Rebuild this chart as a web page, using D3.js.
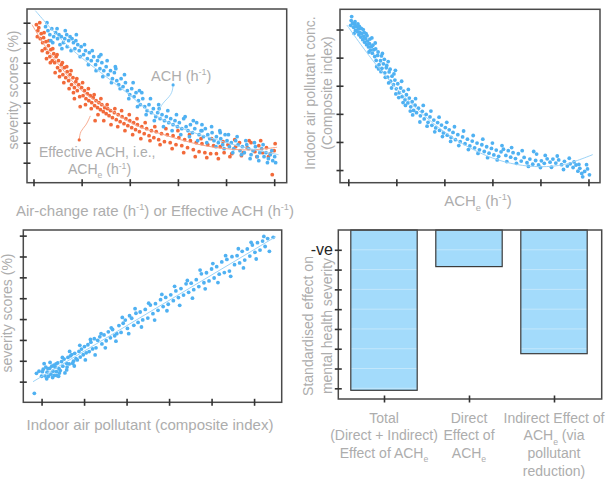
<!DOCTYPE html>
<meta charset="utf-8">
<script src="https://d3js.org/d3.v7.min.js"></script>
<style>
  body { margin: 0; background: #fff; }
  svg { display: block; }
  text { font-family: "Liberation Sans", Arial, sans-serif; }
</style>
<div id="chart"></div>
<script>

// ---- panel A: severity vs ACH / effective ACH (tick units) ----
var achPoints = [[2.5,78],[3.0,76],[3.4,74],[3.8,77],[4.2,73],[4.6,75],[5.0,72],[5.3,74],[5.8,73],[6.2,70],[6.5,72],[6.9,74],[7.3,71],[7.6,73],[8.0,72],[8.3,70],[8.8,71],[9.2,69],[9.5,66],[9.9,68],[10.4,64],[10.8,66],[11.2,62],[11.6,65],[12.0,61],[12.5,63],[12.9,59],[13.3,61],[13.8,57],[14.2,60],[14.6,56],[15.1,58],[15.5,54],[16.0,56],[16.4,52],[16.8,55],[17.3,51],[17.7,49],[18.2,52],[18.6,48],[19.1,50],[19.5,46],[20.0,44],[20.4,47],[20.9,43],[21.3,45],[21.8,41],[22.2,39],[22.7,42],[23.1,38],[23.6,36],[24.0,39],[24.5,35],[24.9,37],[25.4,33],[25.8,35],[26.3,32],[26.7,34],[27.2,31],[27.6,33],[28.1,30],[28.5,32],[29.0,29],[29.4,31],[29.9,28],[30.3,30],[30.8,27],[31.2,32],[31.7,28],[32.1,26],[32.6,29],[33.0,25],[33.5,27],[33.9,30],[34.4,24],[34.8,26],[35.3,23],[35.7,27],[36.2,24],[36.6,22],[37.1,25],[37.5,21],[38.0,23],[38.4,20],[38.9,22],[39.3,19],[39.8,24],[40.2,21],[40.7,18],[41.1,20],[41.6,17],[42.0,21],[42.5,19],[42.9,16],[43.4,18],[43.8,15],[44.3,19],[44.7,17],[45.2,14],[45.6,16],[46.1,18],[46.5,13],[47.0,15],[47.4,17],[47.9,13],[48.3,15],[48.8,12],[49.2,14],[49.7,11],[50.1,13],[3.6,71],[5.5,69],[7.0,68],[8.6,67],[14.0,64],[17.0,58],[22.0,46],[26.0,39],[35.0,29],[38.8,25],
  [2.8,80],[4.0,70],[4.9,77],[5.9,67],[6.6,76],[7.8,66],[8.9,74],[9.7,63],[10.6,69],[11.4,59],[12.2,66],[13.0,56],[13.6,63],[14.4,53],[15.3,61],[16.2,50],[17.1,57],[18.0,47],[18.9,54],[19.8,42],[20.7,50],[21.6,38],[22.5,45],[23.4,34],[24.3,42],[25.1,31],[26.1,37],[27.0,28],[27.9,36],[28.8,26],[29.7,34],[30.6,24],[31.5,33],[32.4,23],[33.2,31],[34.1,21],[35.0,26],[36.0,20],[37.0,28],[37.9,18],[38.7,26],[39.6,17],[40.5,24],[41.4,15],[42.3,23],[43.2,14],[44.1,21],[45.0,12],[45.9,20],[46.8,11],[47.7,19],[48.6,10],[49.5,16],[50.3,10]];
var achTrend = [[0.4,86],[5,73.5],[9,64.5],[14,55],[19.4,45],[24.5,35],[30,28],[38,21.5],[44,17.5],[50.9,14]];

var achePoints = [[0.6,79],[0.9,76],[1.1,77.5],[1.4,72],[1.6,74.5],[1.9,70],[2.1,72.5],[2.4,67],[2.6,70.5],[2.9,65],[3.1,68.5],[3.4,63],[3.6,66.5],[3.9,61],[4.2,64.5],[4.4,60],[4.7,63],[5.0,57.5],[5.2,61],[5.5,56],[5.8,59],[6.1,54],[6.4,57.5],[6.7,52.5],[7.0,55.5],[7.3,51],[7.6,54],[7.9,49],[8.2,52.5],[8.5,47.5],[8.8,50.5],[9.1,46],[9.4,49],[9.7,38],[10.0,47.5],[10.3,43.5],[10.6,46],[10.9,42],[11.2,44.5],[11.5,41],[11.8,43.5],[12.1,40],[12.4,42.5],[12.8,31],[12.7,38.5],[13.0,41],[13.3,37.5],[13.6,40],[13.9,36.5],[14.2,39],[14.5,35.5],[14.8,37.5],[15.1,34.5],[15.4,37],[15.7,33.5],[16.0,36],[16.4,32.5],[16.8,35],[17.2,31.5],[17.6,34],[18.0,30.5],[18.4,33],[18.8,29.5],[19.2,32],[19.6,28.5],[20.0,31],[20.4,27.5],[20.8,30],[21.2,26.5],[21.6,29],[22.0,25.5],[22.5,28],[23.0,24.5],[23.5,27],[24.0,23.5],[24.5,26],[25.0,22.5],[25.5,25.5],[26.0,21.5],[26.6,24.5],[27.2,20.5],[27.8,24],[28.4,20],[29.0,23.5],[29.6,19],[30.2,22.5],[30.8,18.5],[31.4,21.5],[32.0,17.5],[32.6,21],[33.2,16.5],[33.8,20],[34.4,15.5],[35.0,19.5],[35.6,15],[36.2,19],[36.8,14.5],[37.4,18.5],[38.0,14.5],[38.8,18],[39.6,15],[40.4,19],[41.2,14.5],[42.0,18],[42.8,20],[43.6,15],[44.4,17.5],[45.2,20],[46.0,15.5],[46.8,18.5],[47.6,15],[48.4,17.5],[49.2,14.5],[50.2,19.5],[49.6,4],[8.5,42],
  [0.8,73],[1.3,80],[1.8,66],[2.2,75],[2.7,62],[3.2,71],[3.5,60],[4.0,67],[4.5,55],[4.9,64],[5.4,53],[6.0,60],[6.3,50],[6.9,58],[7.4,47],[7.8,56],[8.3,45],[9.0,52],[9.6,43],[10.2,50],[10.8,39],[11.4,47],[12.0,37],[12.6,44],[13.4,34],[14.0,42],[14.6,31],[15.3,39],[16.1,29],[16.9,37],[17.5,28],[18.3,36],[19.0,26],[19.9,34],[20.6,24],[21.5,32],[22.3,22],[23.2,30],[24.2,21],[25.2,28],[26.3,19],[27.5,27],[28.8,17],[30.0,26],[31.2,15],[32.4,24],[33.6,13],[34.8,22],[36.0,12.5],[37.0,22],[38.4,12],[39.4,20.5],[40.8,13],[41.8,21.5],[43.2,13.5],[44.8,21],[46.4,13],[47.2,21],[48.8,13],[50.0,16]];
var acheTrend = [[-0.3,79],[2.5,68],[5.6,58],[10,46],[16,36.4],[21,29],[26.4,24.5],[34.6,19],[40,17],[45,16.4],[50.6,17.7]];

// leader lines of the two annotations (same units)
var achLeader = [[29,48.9],[28.8,43.9],[26.7,39.9],[25.9,34.9]];
var acheLeader = [[9.5,21.4],[9.7,25.9],[10.9,28.4],[11.8,33.4]];

// ---- panel B: pollutant vs ACHe ----
var pollPoints = [[0.7,64.6],[0.5,61.5],[0.9,62.3],[1.1,60.8],[1.3,61.9],[1.5,59.7],[1.7,61.0],[1.9,59.2],[2.1,60.2],[2.2,58.1],[2.4,59.0],[2.6,57.3],[2.8,58.5],[3.0,56.4],[3.2,57.6],[3.4,55.5],[3.6,56.8],[3.8,54.6],[4.0,55.9],[4.2,53.8],[4.4,55.0],[4.6,52.7],[4.8,53.9],[5.0,51.6],[5.3,52.8],[5.5,50.4],[5.8,49.0],[6.1,50.8],[6.4,47.5],[6.7,48.9],[7.0,46.2],[7.3,47.8],[7.6,44.6],[7.9,46.4],[8.2,43.1],[8.5,44.9],[8.8,41.6],[9.1,43.4],[9.4,40.4],[9.7,42.0],[10.0,38.9],[10.3,40.7],[10.6,37.5],[10.9,39.2],[11.2,36.1],[11.5,38.1],[11.8,35.0],[12.1,36.8],[12.4,33.9],[12.7,35.6],[13.0,32.5],[13.3,34.3],[13.6,31.2],[13.9,33.1],[14.2,30.4],[14.6,32.0],[15.0,29.3],[15.4,30.9],[15.8,28.2],[16.2,29.8],[16.6,27.0],[17.0,28.9],[17.4,25.9],[17.8,27.8],[18.2,25.0],[18.6,26.9],[19.0,24.1],[19.4,26.0],[19.8,23.2],[20.2,25.1],[20.6,22.4],[21.0,24.3],[21.4,21.6],[21.8,23.4],[22.3,20.8],[22.8,22.6],[23.3,20.1],[23.8,21.8],[24.3,19.4],[24.8,21.0],[25.3,18.6],[25.8,20.3],[26.3,17.9],[26.8,19.6],[27.3,17.2],[27.8,19.0],[28.3,16.6],[28.8,18.3],[29.3,16.0],[29.8,17.7],[30.3,15.4],[30.8,17.1],[31.3,14.9],[31.8,16.5],[32.3,17.4],[32.8,15.2],[33.3,16.9],[33.8,14.6],[34.3,16.2],[34.8,14.1],[35.4,15.8],[36.0,13.2],[36.6,14.5],[37.2,12.6],[37.8,13.9],[38.4,12.1],[39.0,13.4],[39.2,15.7],[39.6,11.8],[40.2,13.3],[40.8,12.4],[41.4,14.0],[42.0,12.8],[42.6,13.9],[43.2,12.5],[43.8,13.6],[44.4,11.9],[45.0,13.1],[45.6,11.4],[46.2,12.2],[46.8,10.9],[47.4,11.8],[47.8,9.6],[48.2,10.6],[48.6,8.8],[49.2,9.5],[49.6,11.9],[50.2,8.3],[1.2,58.6],[2.0,62.0],[2.7,60.4],[3.3,59.0],[3.9,57.8],[4.5,56.6],[5.1,54.4],[5.7,53.1],[6.2,52.0],[6.9,50.6],[7.5,49.4],[8.0,47.2],[8.7,45.9],[9.5,44.2],[5.9,46.8],[6.8,45.0],[8.4,41.0],[9.9,37.1],[11.4,34.0],[12.9,31.0],
  [0.6,63.2],[1.4,62.8],[2.3,61.1],[3.1,60.0],[3.7,58.5],[4.3,52.0],[4.9,57.0],[5.6,55.2],[6.3,46.0],[7.1,51.5],[7.7,43.0],[8.3,48.6],[9.0,39.2],[9.8,45.5],[10.5,35.8],[11.1,41.6],[11.9,33.0],[12.5,38.7],[13.4,29.6],[14.0,35.4],[14.9,27.1],[15.6,33.0],[16.4,25.6],[17.2,31.0],[18.0,23.6],[18.9,28.8],[19.6,21.9],[20.5,27.0],[21.3,20.2],[22.1,25.4],[23.0,18.7],[24.0,23.9],[25.0,17.3],[26.0,22.3],[27.0,15.9],[28.0,21.0],[29.0,14.4],[30.0,19.6],[31.0,13.6],[32.0,18.7],[33.0,13.0],[34.0,18.0],[35.0,12.4],[36.2,16.9],[37.5,11.3],[38.6,16.6],[40.0,10.9],[41.0,15.2],[42.3,11.0],[43.5,15.0],[44.8,10.2],[46.0,14.2],[47.0,12.9],[48.0,12.0],[48.8,7.6],[49.8,10.4]];
var pollTrend = [[-0.3,61.6],[5,49.2],[10,39.1],[15,30.6],[20,23.6],[25,18.2],[30,14.3],[35,12.0],[40,11.2],[45,12.0],[50.9,15.5]];

// ---- panel C: severity vs pollutant ----
var sevPoints = [[-1.7,4.4],[-1.2,14.0],[-0.6,15.0],[0.0,12.6],[0.4,16.0],[0.8,12.8],[1.0,17.0],[1.3,14.5],[1.6,12.6],[1.9,16.4],[2.2,13.6],[2.4,17.4],[2.7,15.0],[3.0,13.0],[3.2,16.9],[3.5,14.8],[3.8,19.0],[4.1,16.2],[4.4,15.3],[4.7,19.6],[5.0,17.4],[5.3,20.8],[5.9,15.6],[5.9,18.8],[6.2,21.6],[6.5,18.5],[6.8,22.4],[7.1,23.0],[7.5,19.8],[7.8,23.6],[8.1,21.0],[8.4,20.4],[8.8,24.5],[9.1,21.8],[9.4,25.6],[9.8,22.9],[10.1,26.8],[10.5,23.8],[10.9,27.7],[11.2,24.4],[11.6,28.9],[12.0,25.7],[12.4,30.6],[12.8,26.2],[13.2,29.8],[13.7,31.5],[14.2,28.1],[14.7,32.4],[15.2,29.6],[15.7,33.9],[16.2,31.0],[16.7,35.0],[17.2,32.0],[17.7,33.0],[18.2,36.9],[18.7,33.6],[19.2,38.0],[19.7,39.5],[20.2,35.5],[20.7,41.6],[21.2,40.4],[21.7,37.0],[22.2,42.8],[22.7,38.4],[23.2,43.4],[23.8,39.6],[24.4,44.6],[25.0,40.5],[25.6,46.7],[26.2,42.6],[26.8,47.4],[27.4,44.2],[28.0,49.3],[28.6,46.0],[29.2,50.4],[29.8,47.1],[30.4,51.6],[31.0,48.8],[31.6,53.5],[32.2,50.3],[32.8,54.6],[33.4,51.5],[34.0,56.9],[34.6,52.8],[35.2,57.2],[35.8,54.1],[36.4,58.9],[37.0,55.6],[37.6,61.7],[38.2,57.4],[38.8,62.2],[39.4,58.3],[40.0,64.0],[40.6,59.7],[41.2,65.1],[41.8,61.5],[42.4,67.4],[43.0,62.3],[43.6,68.6],[44.2,63.0],[44.8,69.9],[45.4,66.1],[46.0,70.4],[46.6,66.9],[47.2,72.5],[47.8,68.3],[48.4,73.6],[49.0,70.2],[49.6,75.5],[50.2,72.0],[50.8,76.6],[51.4,73.1],[52.0,77.4],[52.6,74.8],[53.2,78.6],[54.5,79.2],[0.2,14.8],[1.5,16.2],[2.9,17.9],[4.2,14.1],[3.6,12.9],[6.0,17.0],[7.3,18.8],
  [0.6,18.6],[1.2,11.4],[2.0,19.2],[2.6,12.0],[3.4,18.5],[4.0,12.6],[4.9,21.6],[5.5,14.2],[6.6,24.5],[7.7,17.5],[9.0,27.4],[10.3,20.4],[11.5,30.2],[12.6,22.8],[14.0,33.0],[15.0,26.2],[16.4,35.8],[17.5,29.4],[19.0,40.8],[20.5,33.0],[22.0,45.0],[23.5,36.2],[25.2,47.6],[26.6,39.5],[28.3,51.8],[29.5,44.0],[31.3,55.7],[32.5,46.6],[34.3,58.5],[35.5,50.0],[37.3,63.5],[38.5,54.5],[40.3,66.6],[41.5,57.5],[43.3,70.4],[44.5,60.5],[46.3,73.7],[47.5,64.5],[49.3,76.8],[50.5,68.8],[52.3,79.6],[53.6,72.5]];
var sevTrend = [[-2,10],[55.1,79.5]];

// ---- panel D: standardised effects ----
var effectLabels = [
  ["Total", "(Direct + Indirect)", "Effect of ACH_e"],
  ["Direct", "Effect of", "ACH_e"],
  ["Indirect Effect of", "ACH_e (via", "pollutant", "reduction)"]
];
var effectNames = ["total", "direct", "indirect"];
var effectValues = [-8.1, -1.85, -6.25];
var effectTicks = [-1, -2, -3, -4, -5, -6, -7, -8];

var blue = "#4fb1f2", orange = "#f26a3a", grey = "#adadad";

var svg = d3.select("#chart").append("svg")
    .attr("width", 606)
    .attr("height", 484);

// write text with _e subscripts and ^-1 superscripts
function rich(t, str, size) {
  var shift = 0;
  str.split(/(_e|\^-1)/).forEach(function(p) {
    if (p === "") return;
    if (p === "_e") {
      t.append("tspan").attr("dy", size * 0.3 - shift).attr("font-size", size * 0.62).text("e");
      shift = size * 0.3;
    } else if (p === "^-1") {
      t.append("tspan").attr("dy", -size * 0.38 - shift).attr("font-size", size * 0.62).text("-1");
      shift = -size * 0.38;
    } else {
      t.append("tspan").attr("dy", -shift).text(p);
      shift = 0;
    }
  });
  return t;
}

function label(x, y, str, opt) {
  opt = opt || {};
  var size = opt.size || 14;
  var t = svg.append("text")
      .attr("x", x).attr("y", y)
      .attr("font-size", size)
      .attr("fill", opt.fill || grey)
      .attr("text-anchor", opt.anchor || "middle");
  if (opt.rotate) t.attr("transform", "rotate(-90," + x + "," + y + ")");
  return rich(t, str, size);
}

// a framed panel with crossing tick marks and no tick labels
function panel(box, xDom, yDom, xTicks, yTicks) {
  var x = d3.scaleLinear().domain(xDom).range([box.left, box.right]);
  var y = d3.scaleLinear().domain(yDom).range([box.bottom, box.top]);
  var g = svg.append("g");
  g.append("rect")
      .attr("x", box.left).attr("y", box.top)
      .attr("width", box.right - box.left).attr("height", box.bottom - box.top)
      .attr("fill", "none").attr("stroke", "#4a4a4a").attr("stroke-width", 1.5);
  g.append("g")
      .attr("transform", "translate(0," + (box.bottom - 3.5) + ")")
      .call(d3.axisBottom(x).tickValues(xTicks).tickSize(7).tickFormat(""))
      .call(function(a) { a.select(".domain").remove(); a.selectAll("line").attr("stroke", "#333").attr("stroke-width", 1.6); });
  g.append("g")
      .attr("transform", "translate(" + (box.left + 3.5) + ",0)")
      .call(d3.axisLeft(y).tickValues(yTicks).tickSize(7).tickFormat(""))
      .call(function(a) { a.select(".domain").remove(); a.selectAll("line").attr("stroke", "#333").attr("stroke-width", 1.6); });
  return {g: g, x: x, y: y};
}

function dots(p, data, color) {
  p.g.append("g").selectAll("circle")
    .data(data)
    .join("circle")
      .attr("cx", function(d) { return p.x(d[0]); })
      .attr("cy", function(d) { return p.y(d[1]); })
      .attr("r", 1.9)
      .attr("fill", color);
}

function curve(p, data, color, width, kind) {
  var line = d3.line()
      .x(function(d) { return p.x(d[0]); })
      .y(function(d) { return p.y(d[1]); })
      .curve(kind || d3.curveCatmullRom);
  p.g.append("path").datum(data)
      .attr("d", line)
      .attr("fill", "none")
      .attr("stroke", color)
      .attr("stroke-width", width);
}

var tick10 = [0, 10, 20, 30, 40, 50];

// panel A
var pA = panel({left: 27, top: 9, right: 286.7, bottom: 182.7}, [-1.35, 52.6], [0, 86.85],
               tick10, [10, 20, 30, 40, 50, 60, 70, 80]);
dots(pA, achePoints, orange);
dots(pA, achPoints, blue);
curve(pA, acheTrend, "#f6a286", 1);
curve(pA, achTrend, "#9bd3f7", 1);
curve(pA, achLeader, "#8fcdf5", 0.8, d3.curveBasis);
curve(pA, acheLeader, "#f59877", 0.8, d3.curveBasis);
pA.g.append("circle").attr("cx", pA.x(achLeader[0][0])).attr("cy", pA.y(achLeader[0][1])).attr("r", 1.6).attr("fill", blue);
pA.g.append("circle").attr("cx", pA.x(acheLeader[0][0])).attr("cy", pA.y(acheLeader[0][1])).attr("r", 1.6).attr("fill", orange);
label(151, 81, "ACH (h^-1)", {anchor: "start", size: 14.5});
label(39, 157, "Effective ACH, i.e.,", {anchor: "start", size: 14});
label(68, 174, "ACH_e (h^-1)", {anchor: "start", size: 14});
label(18, 90, "severity scores (%)", {rotate: true});
label(155, 216, "Air-change rate (h^-1) or Effective ACH (h^-1)", {size: 15});

// panel B
var pB = panel({left: 340, top: 9.3, right: 600, bottom: 182.7}, [-1.73, 52.4], [5.5, 67.2],
               tick10, [10, 20, 30, 40, 50, 60]);
dots(pB, pollPoints, blue);
curve(pB, pollTrend, "#9bd3f7", 1);
label(315, 93, "Indoor air pollutant conc.", {rotate: true});
label(332, 93, "(Composite index)", {rotate: true});
label(478, 206, "ACH_e (h^-1)", {size: 15});

// panel C
var pC = panel({left: 23.3, top: 230, right: 281.7, bottom: 402.3}, [-4.3, 56.5], [0.1, 82.7],
               tick10, [10, 20, 30, 40, 50, 60, 70, 80]);
dots(pC, sevPoints, blue);
curve(pC, sevTrend, "#9bd3f7", 1, d3.curveLinear);
label(12, 313, "severity scores (%)", {rotate: true});
label(150, 430, "Indoor air pollutant (composite index)", {size: 15});

// panel D
var boxD = {left: 338.3, top: 230, right: 601.7, bottom: 399};
var xD = d3.scalePoint().domain(effectNames).range([384, 554]);
var yD = d3.scaleLinear().domain([0, -8.54]).range([boxD.top, boxD.bottom]);
var gD = svg.append("g");
var barX = function(d, i) { return xD(effectNames[i]) - 33.2; };
gD.append("g").selectAll("rect")
  .data(effectValues)
  .join("rect")
    .attr("x", barX)
    .attr("y", yD(0))
    .attr("width", 66.4)
    .attr("height", function(d) { return yD(d) - yD(0); })
    .attr("fill", "#a3dbfb");
// faint guide lines that only show on the bars
gD.append("g").selectAll("line")
  .data(effectTicks)
  .join("line")
    .attr("x1", boxD.left).attr("x2", boxD.right)
    .attr("y1", function(d) { return yD(d); })
    .attr("y2", function(d) { return yD(d); })
    .attr("stroke", "#fff").attr("stroke-opacity", 0.35);
gD.append("g").selectAll("rect")
  .data(effectValues)
  .join("rect")
    .attr("x", barX)
    .attr("y", yD(0))
    .attr("width", 66.4)
    .attr("height", function(d) { return yD(d) - yD(0); })
    .attr("fill", "none")
    .attr("stroke", "#3a3a3a")
    .attr("stroke-width", 1.2);
gD.append("rect")
    .attr("x", boxD.left).attr("y", boxD.top)
    .attr("width", boxD.right - boxD.left).attr("height", boxD.bottom - boxD.top)
    .attr("fill", "none").attr("stroke", "#4a4a4a").attr("stroke-width", 1.5);
gD.append("g")
    .attr("transform", "translate(0," + (boxD.bottom - 3.5) + ")")
    .call(d3.axisBottom(xD).tickSize(7).tickFormat(""))
    .call(function(a) { a.select(".domain").remove(); a.selectAll("line").attr("stroke", "#333").attr("stroke-width", 1.6); });
gD.append("g")
    .attr("transform", "translate(" + (boxD.left + 3.5) + ",0)")
    .call(d3.axisLeft(yD).tickValues(effectTicks).tickSize(7).tickFormat(""))
    .call(function(a) { a.select(".domain").remove(); a.selectAll("line").attr("stroke", "#333").attr("stroke-width", 1.6); });
label(333, yD(effectTicks[0]) + 5, "-ve", {anchor: "end", size: 16, fill: "#262626"});
label(313, 326, "Standardised effect on", {rotate: true});
label(332, 326, "mental health severity", {rotate: true});
effectLabels.forEach(function(lines, i) {
  lines.forEach(function(s, j) {
    label(xD(effectNames[i]), 422.5 + j * 17.8, s);
  });
});

</script>
